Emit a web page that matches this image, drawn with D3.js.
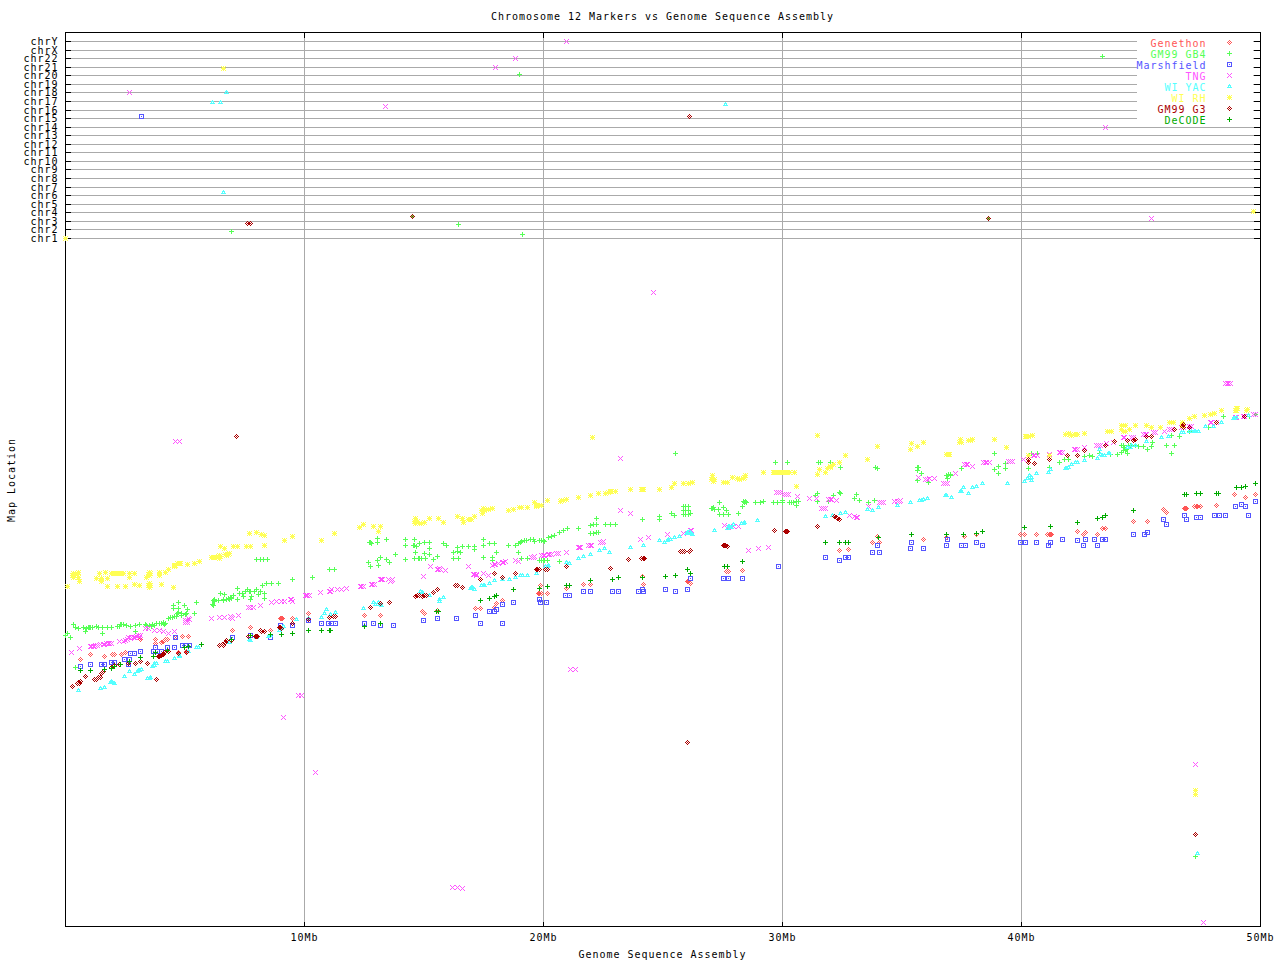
<!DOCTYPE html>
<html><head><meta charset="utf-8">
<script src="https://cdn.jsdelivr.net/npm/d3@7"></script>
<style>html,body{margin:0;background:#fff}svg{display:block}text{font-family:"DejaVu Sans Mono",monospace;font-size:10px;letter-spacing:.98px;fill:#000}</style>
</head><body><svg id="c" width="1280" height="960"></svg>
<script>
const chromosomes=["chr1","chr2","chr3","chr4","chr5","chr6","chr7","chr8","chr9","chr10","chr11","chr12","chr13","chr14","chr15","chr16","chr17","chr18","chr19","chr20","chr21","chr22","chrX","chrY"];
const xTicks=[10,20,30,40,50];
const seriesNames=["Genethon","GM99 GB4","Marshfield","TNG","WI YAC","WI RH","GM99 G3","DeCODE"];
const seriesColors=["#ff5555","#55ff55","#5555ff","#ff55ff","#55ffff","#ffff55","#aa0000","#00aa00"];
const glyphNames=["hatch","plus","square","cross","tri","star","hatch","plus"];

const genethon=[[.62,266],[1.05,272],[1.62,270],[1.97,272],[2.05,272],[2.35,272],[2.49,274],[3.12,287],[3.76,287],[3.76,283],[4.01,284],[4.27,287],[4.20,287],[4.60,289],[4.90,290],[5.14,290],[4.72,274],[5.07,275],[6.98,296],[7.73,299],[8.57,296],[9.0,308],[9.08,308],[9.49,308],[10.16,313],
[12.50,311],[13.17,311],[14.94,315],[15.03,313],[15.56,316],[17.15,318],[17.36,318],[17.94,319],[18.03,323],[18.28,326],[19.88,341],[19.85,333],[19.80,333],[20.16,333],[20.97,338],[21.67,342],[21.96,342],[24.15,350],[24.18,342],[26.06,344],[26.02,344],
[26.13,343],[27.64,355],[27.72,355],[28.32,356],[32.38,376],[32.75,377],[33.76,383],[33.97,390],[34.05,383],[35.89,386],[36.87,389],[37.61,390],[38.11,392],
[39.95,392],[40.12,392],[40.62,392],[41.16,392],[41.2,392],[42.33,395],[42.59,392],[42.67,394],[43.17,392],[43.38,397],[43.52,397],[44.68,405],[45.26,405],[45.93,417],[46.06,414],[46.85,418],[47.31,420],[47.48,420],[48.15,421],[48.90,432],[49.36,429],[49.78,432],
[4.1,285],[9.05,308],[19.78,333],[19.92,333],[41.1,392],[41.25,392],[46.8,418],[46.9,418],[47.25,420],[47.38,420]];

const gb4=[[.02,291],[.08,293],[.19,289],[.33,302],[.40,299],[.56,298],[.82,294],[.89,298],[1.05,299],[1.15,299],[1.28,300],[1.37,299],[1.54,293],[1.56,299],[1.75,299],[1.93,299],[2.17,300],[2.25,300],[2.30,302],[2.42,302],[2.56,301],[2.70,300],[2.91,301],[3.09,302],[3.37,301],[3.51,301],[3.6,300],[3.74,301],[3.93,303],[4.09,303],[4.20,303],[2.91,294],[4.30,308],[4.48,309],[4.65,310],[4.51,318],[4.51,321],[4.72,324],[4.72,318],[4.72,314],[4.96,320],[4.68,313],[4.86,313],[5.10,317],[5.07,313],[5.39,313],[5.47,324],[6.19,320],[6.19,326],[6.25,325],[6.39,326],[6.49,333],[6.60,327],[6.67,332],[6.75,327],[6.88,327],[6.95,328],[7.02,331],[7.19,338],[7.19,327],[7.30,333],[7.44,330],[7.62,336],[7.70,335],[7.72,327],[7.79,330],[8.00,336],[8.07,332],[8.15,335],[8.32,333],[8.32,328],[8.25,341],[8.42,343],[8.63,343],[8.91,343],[9.49,346],[8.00,367],[8.15,367],[8.28,367],[8.44,367],[10.33,349],[11.04,357],[11.27,357],[.40,259],
[.75,299],[.95,299],[1.0,299],[2.35,302],[3.35,302],[3.45,300],[3.65,302],[3.8,303],[4.0,303],[4.15,302],[4.12,304],[4.4,309],[4.55,310],[4.85,311],[5.0,312],[6.15,322],[6.22,327],[6.6,326],[6.8,328],[6.9,329],[7.4,333],[7.55,335],[7.75,335],[7.9,335],[8.28,367],
[12.67,364],[12.77,383],[12.77,359],[13.05,388],[13.05,383],[13.05,366],[13.09,361],[13.16,369],[13.44,387],[13.44,367],[13.55,364],[13.80,372],[14.22,367],[14.23,387],[14.23,381],[14.62,381],[14.62,387],[14.66,374],[14.80,382],[14.62,368],[14.83,368],[15.04,383],[15.04,373],[15.08,368],[15.22,383],[15.22,378],[15.22,372],[15.39,367],[15.56,370],[15.81,382],[15.95,381],[16.23,374],[16.23,368],[16.39,379],[16.44,368],[16.51,374],[16.62,380],[16.85,380],[17.13,380],[17.13,377],[17.48,386],[17.51,381],[17.51,369],[17.76,382],[17.97,382],[17.87,369],[17.87,366],[18.04,374],[18.53,381],[18.81,381],[18.95,382],[18.95,374],[19.09,384],[19.09,368],[19.30,385],[19.32,368],[19.60,387],[19.64,384],[19.85,385],[19.99,385],[19.82,366],[19.99,366],[20.16,366],[20.20,389],[20.34,390],[20.48,391],[20.66,394],[20.69,365],[20.83,396],[20.99,397],[21.46,397],[21.95,393],[21.97,401],[22.22,408],[22.22,402],[22.22,394],[22.60,402],[22.81,402],[23.0,402],[24.13,407],[24.85,410],[24.85,407],[25.36,413],[25.50,411],[25.85,420],[25.85,416],[25.85,412],[26.06,420],[26.06,416],[26.06,412],
[12.72,383],[12.82,382],[14.58,381],[14.7,380],[14.75,368],[14.9,368],[16.4,375],[19.05,383],[19.2,385],[19.45,386],[19.9,385],[20.05,384],[19.92,366],[20.05,366],[22.1,393],[22.3,394],[22.1,402],[25.95,420],[25.95,416],[25.95,412],
[26.13,413],[27.04,418],[27.11,419],[27.36,423],[27.32,417],[27.52,419],[27.36,412],[27.52,412],[27.66,415],[27.73,412],[28.15,413],[28.33,420],[28.36,424],[28.5,423],[28.88,423],[29.06,423],[29.20,424],[29.62,423],[29.78,423],[29.71,463],[30.0,425],[30.20,463],[30.29,423],[30.38,423],[30.59,424],[30.59,421],[31.36,431],[31.46,433],[31.46,424],[31.5,463],[31.6,463],[31.92,424],[31.99,463],[32.15,431],[32.38,434],[32.43,433],[32.42,459],[33.03,428],[33.09,432],[33.21,426],[33.59,423],[33.84,426],[33.97,458],[35.64,459],[35.64,456],[35.64,446],[35.82,453],[36.10,444],[36.87,451],[36.90,448],[37.01,452],[37.5,458],
[27.08,418],[27.15,417],[28.4,423],[28.45,424],[30.0,423],[30.45,423],[30.65,424],[35.7,459],[37.05,451],[36.95,452],
[38.86,473],[38.86,457],[39.03,460],[39.03,453],[39.32,462],[39.32,458],[40.31,458],[40.42,473],[40.66,473],[41.16,459],[41.61,464],[41.82,467],[41.96,467],[42.65,469],[42.84,471],[42.98,469],[43.28,473],[43.73,472],[44.01,472],[44.26,481],[44.26,476],[44.2,474],[44.43,473],[44.47,481],[44.79,481],[45.10,480],[45.26,477],[45.44,480],[45.47,484],[46.07,481],[46.28,473],[46.39,481],[46.28,491],[46.60,490],[47.02,495],[47.84,499],[48.44,509],[49.56,509],[49.77,512],
[44.2,481],[44.3,479],[44.35,476],[44.4,477],[44.55,481],[44.9,480],
[6.93,695],[19.14,691],[16.46,702],[43.37,869],[18.98,852],[14.5,710],[38.64,708],[25.54,473],[47.3,70],[33.9,459]];

const marshfield=[[.62,260],[1.05,262],[1.51,262],[1.65,262],[1.93,264],[2.07,264],[2.46,266],[2.63,262],[2.67,266],[2.71,273],[2.89,273],[3.13,275],[3.67,275],[3.76,279],[3.84,275],[4.01,275],[4.26,279],[4.55,279],[4.60,289],[4.90,281],[5.04,281],[5.18,281],[6.98,289],[7.73,291],[8.57,289],[9.0,301],[9.49,301],[10.16,305],[10.72,303],[11.0,303],[11.14,303],[11.29,303],
[12.50,303],[12.88,303],[13.17,301],[13.72,301],[14.97,305],[15.56,308],[16.35,308],[17.15,311],[17.36,303],[17.73,315],[17.94,315],[18.03,317],[18.28,303],[18.28,322],[18.74,324],[19.83,327],[19.88,324],[20.13,324],[20.94,331],[21.08,331],[21.67,335],[21.96,335],[22.88,335],[23.13,335],[23.97,335],[24.13,337],[24.18,335],[25.10,337],[25.51,335],[26.02,337],[26.14,348],
[26.16,348],[27.52,348],[27.73,348],[28.32,348],[29.83,360],[31.79,369],[32.38,366],[32.63,369],[32.75,369],[33.76,374],[33.97,381],[34.05,374],[35.35,378],[35.39,383],[35.89,378],[36.87,381],[36.90,387],[37.50,381],[37.64,381],[38.11,383],[38.36,381],
[39.95,383],[40.16,383],[40.62,383],[41.12,381],[41.20,383],[41.71,387],[42.33,385],[42.59,381],[42.67,387],[43.05,387],[43.17,381],[43.38,387],[43.52,387],[44.68,392],[45.14,392],[45.26,394],[45.93,407],[46.06,402],[46.81,411],[46.89,407],[47.31,409],[47.48,409],[48.07,411],[48.28,411],[48.53,411],[48.95,420],[49.20,422],[49.36,420],[49.49,411],[49.78,424],
[3.16,809]];

const tng=[[.27,274],[.58,278],[1.05,280],[1.16,280],[1.25,281],[1.33,281],[1.58,282],[1.7,283],[1.79,283],[1.93,283],[2.25,285],[2.42,285],[2.5,286],[2.63,289],[2.77,289],[2.85,289],[2.95,290],[3.12,291],[3.33,297],[3.47,297],[3.74,296],[3.95,296],[4.09,295],[4.30,293],[4.54,294],[5.04,305],[5.1,305],[5.18,306],[6.12,307],[6.46,309],[6.67,309],[6.95,309],[7.23,311],[7.65,319],[7.72,319],[7.86,319],[8.14,321],[8.63,324],[8.84,325],[9.05,325],[9.18,325],[9.46,327],[10.09,331],[10.23,331],[10.69,334],[11.09,335],[11.37,337],[9.74,231],[9.88,231],
[1.10,280],[1.22,280],[1.45,282],[1.62,282],[1.85,283],[2.6,287],[2.7,288],[2.9,289],[3.05,291],[3.1,289],[5.0,304],[5.12,304],[5.15,307],[6.9,310],[7.0,308],[9.4,327],[9.5,325],[10.05,331],[10.14,331],[11.05,335],[11.15,336],
[11.74,338],[11.55,337],[12.39,340],[12.85,342],[13.23,347],[13.65,345],[13.5,347],[14.97,350],[15.28,359],[15.60,357],[15.7,357],[15.88,356],[16.85,360],[17.13,352],[17.2,352],[17.51,353],[17.69,351],[17.93,362],[18.32,364],[18.1,363],[18.81,366],[18.95,365],[19.57,369],[19.99,371],[20.27,372],[20.62,373],[20.97,374],[21.50,379],[21.95,381],[22.46,383],[23.24,415],[23.62,413],[24.04,387],[24.39,389],[25.20,392],[25.85,393],[26.16,396],
[12.35,340],[12.45,340],[12.8,342],[12.92,342],[13.2,347],[13.28,347],[13.6,344],[13.7,346],[15.55,357],[15.65,358],[17.08,352],[17.18,351],[17.88,361],[18.0,362],[18.28,364],[18.4,365],[19.5,369],[19.62,370],[19.9,371],[20.05,371],[20.2,372],[20.35,372],[20.55,373],[21.45,379],[21.55,379],[21.88,381],[22.02,381],[22.4,383],[22.5,384],
[26.20,396],[27.57,401],[27.73,398],[27.94,399],[28.15,399],[28.57,376],[28.99,378],[29.41,379],[29.83,434],[30.17,432],[30.62,430],[31.12,428],[31.43,428],[31.71,418],[31.99,427],[32.27,425],[32.82,411],[33.10,409],[33.59,420],[34.15,423],[34.80,424],[34.95,425],[35.70,449],[36.06,447],[36.38,448],[36.83,442],[37.22,453],[37.68,461],[37.96,460],[38.49,464],
[29.75,434],[29.9,434],[30.1,432],[30.25,432],[31.65,418],[31.78,418],[31.93,427],[32.05,427],[33.0,410],[33.15,409],[34.05,423],[34.22,423],[34.7,424],[34.88,424],[35.98,447],[36.15,448],[36.75,442],[36.9,442],[37.6,461],[37.75,461],[38.42,464],[38.55,464],
[38.68,464],[39.54,465],[40.07,467],[40.56,470],[41.16,472],[41.64,474],[42.28,477],[42.65,479],[43.21,481],[43.56,482],[43.84,484],[44.29,488],[44.68,488],[45.17,492],[45.51,494],[46.0,495],[46.28,497],[46.77,499],[47.12,500],[47.95,504],[48.16,504],[48.61,543],[48.75,543],[49.0,508],[49.35,510],[49.77,512],
[39.45,465],[39.62,465],[40.5,470],[40.65,470],[41.58,474],[41.72,474],[42.2,477],[42.35,477],[43.15,481],[43.3,481],[44.25,488],[44.6,488],[45.1,492],[45.25,492],[45.6,494],[46.2,497],[46.7,499],[47.05,500],[47.9,504],[48.55,543],[48.68,543],[48.95,508],[49.3,510],[49.7,512],
[24.62,634],[4.79,485],[4.6,485],[23.24,468],[21.32,257],[21.15,257],[10.48,154],[16.42,39],[16.2,39],[16.6,38],[47.3,161],[47.6,4],[20.98,885],[18.01,859],[2.66,834],[45.46,708],[18.81,868],[13.37,820],[43.5,798],[9.14,209]];

const wiYac=[[.54,236],[1.47,238],[1.65,239],[1.93,245],[2.04,243],[2.46,250],[2.67,254],[2.89,251],[3.05,256],[3.19,257],[3.51,248],[3.72,261],[3.79,263],[4.27,265],[4.58,268],[4.79,271],[5.14,275],[5.56,279],[6.85,284],[7.72,286],[8.0,289],[8.56,291],[8.97,296],[9.14,300],[9.67,306],[10.16,307],[10.72,309],[10.93,317],[11.07,312],[11.29,314],
[12.46,318],[12.88,324],[13.09,324],[13.23,320],[14.94,334],[15.25,331],[15.63,327],[15.81,329],[16.99,339],[17.13,337],[17.48,341],[17.73,343],[17.94,345],[18.28,346],[18.57,347],[18.81,349],[19.11,351],[19.32,351],[19.71,353],[20.16,360],[20.97,364],[21.08,363],[21.46,368],[21.67,370],[21.95,372],[22.34,376],[22.55,378],[22.75,374],[23.63,379],[24.18,381],[24.85,385],[25.08,383],[25.22,386],[25.50,389],[25.71,390],[26.02,394],[26.24,392],
[27.15,396],[27.73,399],[27.94,402],[28.36,403],[28.95,406],[31.78,410],[32.10,411],[32.41,413],[32.62,414],[33.55,417],[33.76,415],[34.01,419],[34.80,421],[35.36,423],[35.82,425],[36.06,428],[36.87,431],[37.08,429],[37.5,435],[37.59,438],[37.78,433],[37.96,439],[38.13,440],[38.36,442],
[39.41,443],[40.12,445],[40.33,450],[40.41,446],[40.62,453],[41.12,454],[41.20,457],[41.87,458],[42.10,461],[42.33,463],[42.65,466],[43.17,468],[43.28,477],[43.49,471],[43.63,473],[44.54,479],[44.75,481],[45.24,485],[45.86,488],[46.14,490],[46.77,494],[47.05,495],[47.40,495],[47.68,500],[48.03,500],[48.37,504],[48.93,507],[49.49,511],
[1.9,244],[1.98,244],[3.0,254],[3.1,256],[3.45,248],[3.55,249],[3.65,260],[3.72,263],[4.2,265],[4.75,270],[5.5,279],[7.7,287],[8.5,290],[8.95,296],[9.05,297],[10.85,313],[12.95,322],[13.15,322],[14.85,335],[15.63,325],[16.95,338],[17.05,339],[17.4,341],[17.55,341],[19.05,351],[20.1,359],[20.2,361],[25.18,385],[25.3,386],[25.98,393],[26.1,395],[26.2,393],[27.7,397],[27.8,400],[27.85,398],[28.3,403],[28.4,404],[35.75,425],[35.9,427],[36.8,431],[37.45,435],[40.25,448],[40.4,449],[41.85,458],[41.95,459],[42.25,464],[43.3,472],[43.4,470],[43.7,473],[44.45,479],[44.6,481],[46.7,494],[47.1,495],[47.25,495],[47.3,495],[48.85,507],[49.0,508],
[6.72,834],[6.17,823],[6.47,823],[6.59,734],[27.63,822],[47.35,73]];

const wiRh=[[.08,340],[.33,353],[.33,349],[.56,354],[.56,349],[.58,344],[1.28,348],[1.44,353],[1.51,348],[1.51,344],[1.67,354],[1.75,348],[1.75,340],[1.93,353],[2.07,353],[2.25,353],[2.42,353],[2.17,340],[2.50,340],[2.67,353],[2.67,349],[2.89,353],[2.89,342],[3.09,341],[3.40,349],[3.51,354],[3.51,351],[3.51,343],[3.51,339],[3.93,354],[3.93,351],[4.01,342],[4.20,354],[4.30,357],[4.51,339],[4.58,359],[4.68,363],[4.82,363],[5.10,362],[5.38,363],[5.60,365],[6.19,369],[6.44,371],[6.44,368],[6.65,378],[6.48,380],[6.74,371],[6.88,373],[7.02,380],[7.20,380],[7.58,380],[7.72,380],[7.69,393],[8.00,394],[8.18,392],[8.31,391],[8.32,381],[9.16,385],[9.51,390],[10.72,385],[11.25,393],
[.30,351],[.38,351],[.52,352],[2.0,353],[2.15,353],[2.2,353],[2.3,353],[3.46,352],[3.56,353],[3.46,341],[3.56,341],[4.55,361],[4.62,361],[4.75,363],[6.1,369],[6.25,369],[6.4,370],[6.5,370],[6.7,372],[6.82,372],
[12.29,398],[12.46,402],[12.88,400],[13.09,395],[13.19,400],[14.66,408],[14.66,403],[14.83,403],[15.04,404],[15.22,408],[15.60,408],[15.81,404],[16.39,410],[16.62,408],[16.65,404],[16.85,407],[16.99,407],[17.13,410],[17.45,413],[17.51,418],[17.69,417],[17.87,418],[18.53,415],[18.76,417],[19.09,419],[19.32,419],[19.62,423],[19.71,421],[19.92,421],[20.16,425],[20.76,425],[20.97,427],[21.46,429],[21.95,431],[22.29,433],[22.60,433],[22.81,435],[23.0,435],[23.63,437],[24.15,437],[24.85,437],[25.36,439],[25.50,443],[25.85,443],[26.06,443],[26.24,444],
[14.6,405],[14.72,405],[14.9,403],[17.4,416],[17.55,416],[19.0,419],[19.7,420],[19.85,421],[20.7,424],[20.85,426],[22.7,434],[22.85,435],[24.1,437],[24.2,437],
[27.08,450],[27.11,445],[27.62,444],[27.92,449],[28.19,447],[28.36,448],[28.47,450],[29.20,454],[29.62,454],[29.78,454],[30.03,454],[30.29,454],[30.52,454],[30.58,440],[31.46,491],[31.46,452],[31.54,457],[31.79,454],[31.99,459],[32.15,461],[32.38,463],[32.63,471],[33.55,467],[33.97,480],[35.35,477],[35.39,482],[35.64,480],[35.89,484],[36.94,472],[37.44,487],[37.48,484],[37.78,486],[37.96,487],
[27.05,447],[27.15,447],[27.55,444],[27.7,444],[28.1,448],[28.4,449],[29.65,454],[29.9,454],[30.15,454],[31.9,458],[32.0,460],[36.85,472],[37.0,472],[37.4,484],[37.85,486],
[38.86,487],[39.36,479],[40.21,489],[40.47,491],[40.31,471],[41.19,471],[41.96,493],[42.10,491],[42.33,492],[42.63,493],[43.70,495],[44.26,501],[44.26,495],[44.51,497],[44.76,501],[45.24,501],[45.43,499],[45.81,499],[46.29,504],[46.73,504],[46.73,501],[47.02,507],[47.23,510],[47.65,511],[47.89,512],[48.07,513],[48.36,515],[48.99,518],[48.99,515],[49.45,517],
[40.15,489],[40.3,490],[41.85,492],[42.05,492],[42.2,492],[43.6,495],[43.78,495],[44.2,501],[44.35,501],[44.2,497],[44.35,495],[46.2,504],[46.35,504],[48.95,515],[49.05,518],[49.4,515],
[6.63,858],[.02,688],[49.69,715],[47.3,136],[47.3,132],[22.03,488]];

const gm99g3=[[.29,240],[.56,244],[.63,245],[.83,250],[1.28,247],[1.47,249],[1.58,254],[1.93,259],[2.07,261],[2.28,262],[2.63,263],[2.91,263],[3.12,265],[3.42,263],[3.81,247],[3.93,270],[4.09,272],[4.30,275],[4.72,273],[5.07,274],[6.44,281],[6.63,281],[6.72,286],[6.95,286],[7.65,290],[8.0,290],[8.14,296],[8.31,294],[9.0,299],[9.49,303],[10.16,306],[11.04,309],[11.29,310],
[.5,243],[.6,243],[1.22,247],[1.4,249],[1.5,252],[2.0,260],[3.9,270],[4.0,271],[4.15,274],[6.55,282],[6.7,284],[7.95,290],[8.05,290],[8.2,295],[8.95,299],[9.05,297],[11.2,310],
[12.75,319],[13.20,323],[13.55,324],[14.66,330],[14.80,331],[15.04,331],[15.39,334],[15.56,337],[16.39,341],[16.62,339],[17.36,346],[17.94,353],[18.28,349],[18.82,353],[19.69,357],[19.85,357],[20.16,357],[20.97,360],[22.80,358],[23.55,367],[24.18,368],[25.81,375],[26.10,375],
[13.18,323],[14.72,331],[14.95,330],[15.1,331],[16.3,341],[19.75,357],[20.1,357],[24.12,368],[24.22,368],[25.75,375],[25.9,375],
[26.16,376],[27.59,381],[27.69,380],[29.66,396],[30.17,395],[31.46,400],[32.24,409],[32.38,407],[27.55,381],[27.62,381],[30.12,395],[30.22,395],[32.18,410],[32.3,408],
[40.31,467],[40.31,463],[40.53,462],[41.16,467],[41.92,471],[42.33,471],[42.63,476],[43.52,481],[43.88,485],[44.43,486],[44.68,486],[44.79,487],[45.21,489],[45.44,489],[46.39,497],[46.77,502],[46.77,499],[47.02,499],[48.16,504],[49.35,509],[46.72,500],
[7.6,703],[7.76,703],[26.09,809],[14.5,710],[38.64,708],[7.17,490],[26.01,184],[47.3,92]];

const decode=[[.62,256],[1.05,256],[1.62,257],[1.93,258],[2.03,260],[2.32,262],[2.67,265],[3.13,269],[3.67,270],[3.76,274],[4.26,276],[4.96,279],[5.14,280],[5.68,282],[6.95,287],[7.72,291],[8.56,292],[9.02,292],[9.49,293],[10.16,296],[10.72,296],[11.04,296],[11.07,296],
[12.50,300],[13.17,303],[15.53,315],[15.60,315],[17.36,326],[17.73,328],[17.94,330],[18.04,331],[18.74,337],[19.85,338],[20.16,340],[20.97,341],[21.08,341],[21.96,345],[22.88,346],[23.13,349],[24.15,349],[25.10,350],[25.51,351],[26.02,357],[26.14,353],
[26.16,353],[27.59,359],[27.69,360],[28.32,365],[31.79,383],[32.38,383],[32.63,383],[32.75,383],[34.01,389],[35.39,392],[36.87,392],[37.57,392],[38.11,393],[38.36,395],
[40.12,398],[41.20,399],[42.33,404],[43.17,408],[43.39,409],[43.51,411],[44.68,416],[46.81,432],[46.89,432],[47.31,433],[47.48,433],[48.15,433],[48.23,433],[48.99,439],[49.20,439],[49.36,440],[49.78,443]];

const seriesValues=[genethon,gb4,marshfield,tng,wiYac,wiRh,gm99g3,decode];

const bitmaps={
 hatch:["..X..",".X.X.","X.X.X",".X.X.","..X.."],
 plus:["..X..","..X..","XXXXX","..X..","..X.."],
 square:["XXXXX","X...X","X.X.X","X...X","XXXXX"],
 cross:["X...X",".X.X.","..X..",".X.X.","X...X"],
 tri:["..X..",".XXX.",".X.X.","XXXXX"],
 star:["X.X.X",".XXX.","XXXXX",".XXX.","X.X.X"]
};
function glyphPath(name){
 const p=d3.path();
 bitmaps[name].forEach((row,j)=>[...row].forEach((c,i)=>{if(c==="X")p.rect(i-2,j-2,1,1);}));
 return p.toString();
}
const L=65.5,R=1260.5,T=32.5,B=926.5;
const x=d3.scaleLinear().domain([0,50]).range([L,R]);
const y=d3.scaleLinear().domain([0,894]).range([926,32]);
const yChr=d3.scalePoint().domain(chromosomes).range([238.5,41.5]);
const snap=v=>Math.floor(v);
const svg=d3.select("#c");

// grid
const grid=svg.append("g").attr("stroke","#aaa").attr("shape-rendering","crispEdges");
grid.selectAll("line.h").data(chromosomes).join("line").attr("class","h")
 .attr("x1",L).attr("x2",R).attr("y1",d=>snap(yChr(d))+.5).attr("y2",d=>snap(yChr(d))+.5);
grid.selectAll("line.v").data(xTicks.slice(0,4)).join("line").attr("class","v")
 .attr("x1",d=>snap(x(d))+.5).attr("x2",d=>snap(x(d))+.5).attr("y1",T).attr("y2",B);

// legend background
svg.append("rect").attr("x",1137).attr("y",36).attr("width",116).attr("height",89).attr("fill","#fff");

// axes
const ax=svg.append("g").attr("stroke","#000").attr("shape-rendering","crispEdges");
ax.append("rect").attr("x",L).attr("y",T).attr("width",R-L).attr("height",B-T).attr("fill","none");
ax.selectAll("line.l").data(chromosomes).join("line").attr("x1",L).attr("x2",L+5).attr("y1",d=>snap(yChr(d))+.5).attr("y2",d=>snap(yChr(d))+.5);
ax.selectAll("line.r").data(chromosomes).join("line").attr("x1",R-7).attr("x2",R).attr("y1",d=>snap(yChr(d))+.5).attr("y2",d=>snap(yChr(d))+.5);
ax.selectAll("line.t").data(xTicks).join("line").attr("x1",d=>snap(x(d))+.5).attr("x2",d=>snap(x(d))+.5).attr("y1",T).attr("y2",T+5);
ax.selectAll("line.b").data(xTicks).join("line").attr("x1",d=>snap(x(d))+.5).attr("x2",d=>snap(x(d))+.5).attr("y1",B-5).attr("y2",B);

// tick labels
svg.append("g").selectAll("text").data(chromosomes).join("text")
 .attr("x",58.5).attr("y",d=>yChr(d)+3.5).attr("text-anchor","end").text(d=>d);
svg.append("g").selectAll("text").data(xTicks).join("text")
 .attr("x",d=>x(d)).attr("y",941).attr("text-anchor","middle").text(d=>d+"Mb");

// titles
svg.append("text").attr("x",662.5).attr("y",19.5).attr("text-anchor","middle").text("Chromosome 12 Markers vs Genome Sequence Assembly");
svg.append("text").attr("x",662.5).attr("y",957.5).attr("text-anchor","middle").text("Genome Sequence Assembly");
svg.append("text").attr("transform","translate(14.5,480) rotate(-90)").attr("text-anchor","middle").text("Map Location");

// points
seriesValues.forEach((vals,i)=>{
 const d=glyphPath(glyphNames[i]);
 svg.append("g").attr("fill",seriesColors[i]).attr("shape-rendering","crispEdges")
  .selectAll("path").data(vals).join("path").attr("d",d)
  .attr("transform",v=>`translate(${snap(x(v[0]))},${snap(y(v[1]))})`);
});

// legend
const leg=svg.append("g");
seriesNames.forEach((n,i)=>{
 const ly=d3.scaleLinear().domain([0,7]).range([42.5,119.5])(i);
 leg.append("text").attr("x",1206.5).attr("y",ly+4).attr("text-anchor","end").style("fill",seriesColors[i]).text(n);
 leg.append("path").attr("d",glyphPath(glyphNames[i])).attr("fill",seriesColors[i]).attr("shape-rendering","crispEdges")
  .attr("transform",`translate(1229,${Math.floor(ly)})`);
});
</script></body></html>
